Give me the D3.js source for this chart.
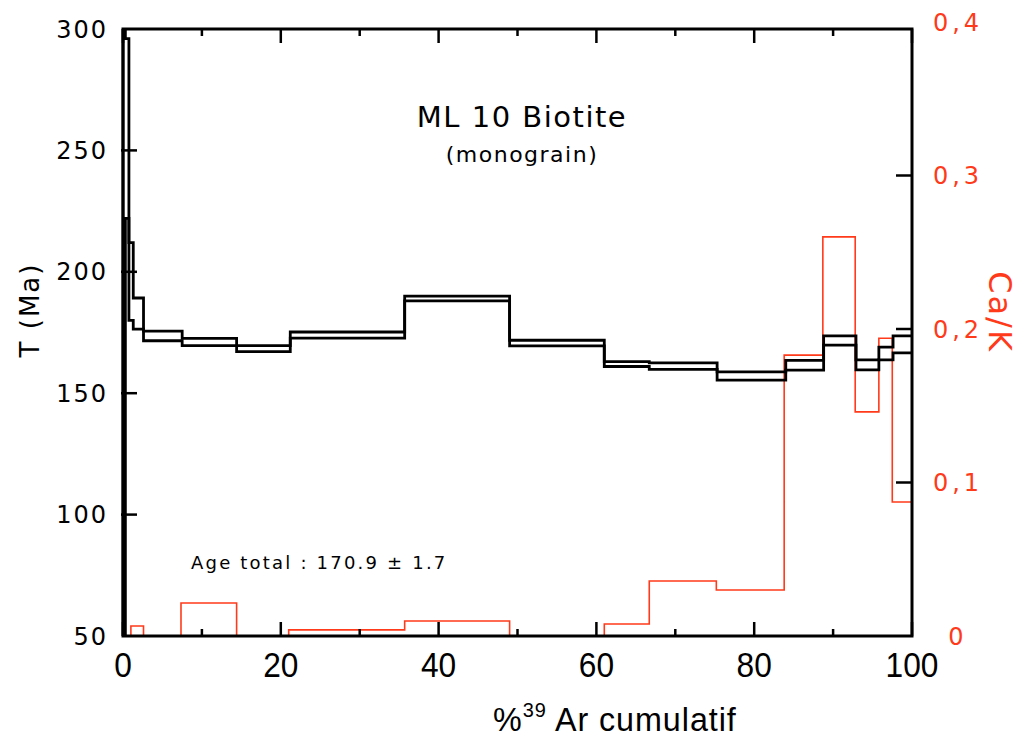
<!DOCTYPE html>
<html>
<head>
<meta charset="utf-8">
<script src="https://cdn.jsdelivr.net/npm/d3@7"></script>
<style>
  html, body { margin: 0; padding: 0; background: #fff; }
  svg { display: block; }
</style>
</head>
<body>
<svg id="chart" width="1024" height="738"></svg>
<script>
// ---- data ----
const stepEdges = [0, 0.3, 0.75, 1.3, 2.6, 7.5, 14.4, 21.2, 35.7, 49.0, 61.0, 66.7, 75.3, 84.0, 88.8, 92.9, 95.8, 97.6, 100];
const ageHigh = [320, 296, 212, 189.2, 175.6, 172.6, 169.6, 175.2, 190.0, 171.8, 163.0, 162.5, 158.8, 163.5, 173.6, 163.7, 169.0, 173.6];
const ageLow  = [40, 222, 180, 176.4, 171.6, 169.6, 167.1, 172.7, 188.0, 169.5, 161.0, 159.8, 155.4, 159.5, 169.8, 159.6, 163.7, 166.6];

const caEdges = [0, 1.0, 2.6, 7.35, 14.4, 21.0, 35.7, 49.0, 61.0, 66.7, 75.2, 83.8, 88.7, 92.8, 95.8, 97.5, 100];
const caK     = [0, 0.0065, 0, 0.0215, 0, 0.004, 0.0098, 0, 0.0078, 0.0358, 0.030, 0.183, 0.26, 0.146, 0.194, 0.0873];

const xTicksMajor = [0, 20, 40, 60, 80, 100];
const xTicksMinor = [10, 30, 50, 70, 90];
const yTicks = [50, 100, 150, 200, 250, 300];
const caTicks = [0, 0.1, 0.2, 0.3, 0.4];
const caTickLabels = ["0", "0,1", "0,2", "0,3", "0,4"];

const titleText = "ML 10 Biotite";
const subtitleText = "(monograin)";
const ageText = "Age total : 170.9 ± 1.7";

// ---- scales ----
const x = d3.scaleLinear().domain([0, 100]).range([123, 912]);
const y = d3.scaleLinear().domain([50, 300]).range([636, 29]);
const yr = d3.scaleLinear().domain([0, 0.4]).range([636, 22]);

const RED = "#ff3a1a";
const svg = d3.select("#chart");

svg.append("defs").append("clipPath").attr("id", "plotclip")
  .append("rect")
  .attr("x", x(0) - 3).attr("y", y(300))
  .attr("width", x(100) - x(0) + 3).attr("height", y(50) - y(300));

const plot = svg.append("g").attr("clip-path", "url(#plotclip)");

// red Ca/K step line
const redPts = caK.map((v, i) => [caEdges[i], v]);
redPts.push([caEdges[caEdges.length - 1], caK[caK.length - 1]]);
plot.append("path")
  .attr("d", d3.line().x(d => x(d[0])).y(d => yr(d[1])).curve(d3.curveStepAfter)(redPts))
  .attr("fill", "none").attr("stroke", RED).attr("stroke-width", 1.6);

// black age spectrum (upper and lower envelopes)
function envelope(vals) {
  const pts = [[0, y.domain()[0]]];
  vals.forEach((v, i) => pts.push([stepEdges[i], v]));
  pts.push([stepEdges[stepEdges.length - 1], vals[vals.length - 1]]);
  return d3.line().x(d => x(d[0])).y(d => y(d[1])).curve(d3.curveStepAfter)(pts);
}
[ageHigh, ageLow].forEach(vals => {
  plot.append("path").attr("d", envelope(vals))
    .attr("fill", "none").attr("stroke", "#000").attr("stroke-width", 2.8)
    .attr("stroke-linejoin", "miter");
});

// ---- frame ----
const frame = svg.append("g").attr("stroke", "#000").attr("fill", "none");
frame.append("rect")
  .attr("x", x(0)).attr("y", y(300))
  .attr("width", x(100) - x(0)).attr("height", y(50) - y(300))
  .attr("stroke-width", 3);

// bottom & top ticks (inward)
xTicksMajor.forEach(t => {
  frame.append("line").attr("x1", x(t)).attr("x2", x(t)).attr("y1", y(50)).attr("y2", y(50) - 14).attr("stroke-width", 2.5);
  frame.append("line").attr("x1", x(t)).attr("x2", x(t)).attr("y1", y(300)).attr("y2", y(300) + 14).attr("stroke-width", 2.5);
});
xTicksMinor.forEach(t => {
  frame.append("line").attr("x1", x(t)).attr("x2", x(t)).attr("y1", y(50)).attr("y2", y(50) - 7).attr("stroke-width", 2.5);
  frame.append("line").attr("x1", x(t)).attr("x2", x(t)).attr("y1", y(300)).attr("y2", y(300) + 7).attr("stroke-width", 2.5);
});
// left ticks
yTicks.slice(1, -1).forEach(t => {
  frame.append("line").attr("x1", x(0) - 2).attr("x2", x(0) + 14).attr("y1", y(t)).attr("y2", y(t)).attr("stroke-width", 2.5);
});
// right ticks (Ca/K)
caTicks.slice(1, -1).forEach(t => {
  frame.append("line").attr("x1", x(100)).attr("x2", x(100) - 16).attr("y1", yr(t)).attr("y2", yr(t)).attr("stroke-width", 2.5);
});

// ---- labels ----
const baseFont = "'DejaVu Sans', 'Liberation Sans', sans-serif";
const narrowFont = "'Liberation Sans', 'Arial', sans-serif";

svg.append("g").selectAll("text").data(yTicks).join("text")
  .attr("x", 108).attr("y", d => y(d)).attr("dy", "0.36em")
  .attr("text-anchor", "end")
  .style("font-family", baseFont).style("font-size", "24px").style("letter-spacing", "2px")
  .text(d => d);

svg.append("g").selectAll("text").data(caTicks).join("text")
  .attr("x", 958).attr("y", d => yr(d)).attr("dy", "0.36em")
  .attr("text-anchor", "middle")
  .attr("fill", RED)
  .style("font-family", baseFont).style("font-size", "24px").style("letter-spacing", "4px")
  .text((d, i) => caTickLabels[i]);

svg.append("g").selectAll("text").data(xTicksMajor).join("text")
  .attr("transform", d => `translate(${x(d)},677) scale(0.88,1)`)
  .attr("text-anchor", "middle")
  .style("font-family", narrowFont).style("font-size", "36px")
  .text(d => d);

// axis titles
const xt = svg.append("text").attr("transform", "translate(493,731) scale(0.95,1)")
  .style("font-family", narrowFont).style("font-size", "34px")
  .style("letter-spacing", "1px");
xt.append("tspan").text("%");
xt.append("tspan").attr("dy", -14).style("font-size", "21px").text("39");
xt.append("tspan").attr("dy", 14).text(" Ar cumulatif");

svg.append("text").attr("transform", "translate(39,310) rotate(-90)")
  .attr("text-anchor", "middle")
  .style("font-family", baseFont).style("font-size", "26px").style("letter-spacing", "2px")
  .text("T (Ma)");

svg.append("text").attr("transform", "translate(989,312) rotate(90)")
  .attr("text-anchor", "middle").attr("fill", RED)
  .style("font-family", baseFont).style("font-size", "32px").style("letter-spacing", "2px")
  .text("Ca/K");

svg.append("text").attr("x", 522).attr("y", 127).attr("text-anchor", "middle")
  .style("font-family", baseFont).style("font-size", "29px").style("letter-spacing", "1.5px")
  .text(titleText);
svg.append("text").attr("x", 522).attr("y", 162).attr("text-anchor", "middle")
  .style("font-family", baseFont).style("font-size", "22px").style("letter-spacing", "1.5px")
  .text(subtitleText);

svg.append("text").attr("x", 191).attr("y", 569)
  .style("font-family", baseFont).style("font-size", "18px").style("letter-spacing", "2.2px")
  .text(ageText);
</script>
</body>
</html>
